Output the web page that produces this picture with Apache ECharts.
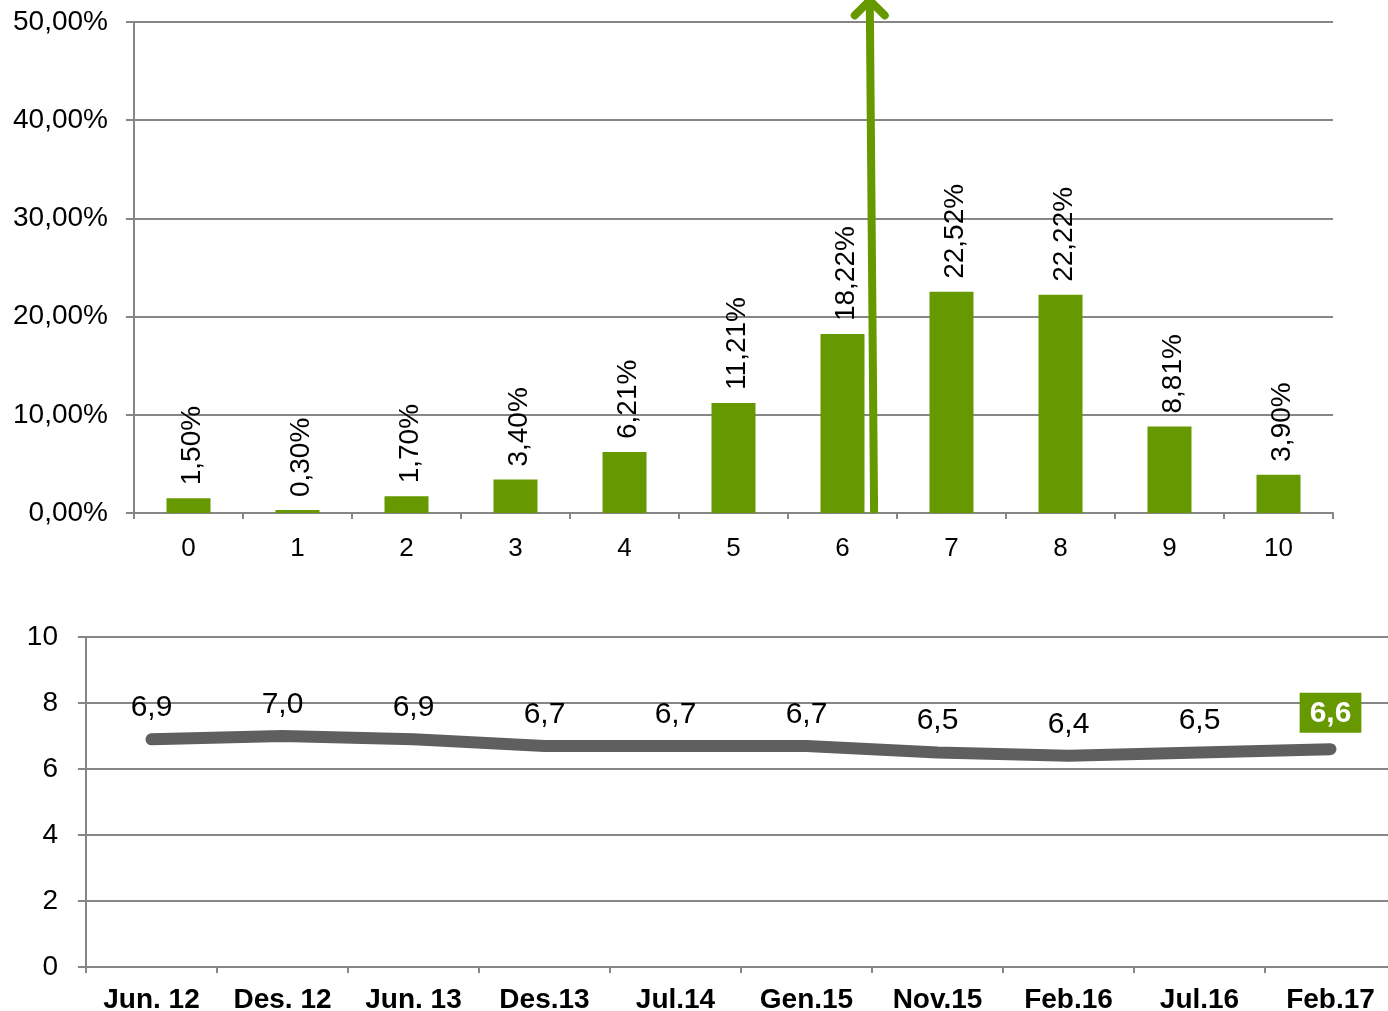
<!DOCTYPE html>
<html>
<head>
<meta charset="utf-8">
<script src="https://cdn.jsdelivr.net/npm/echarts@6/dist/echarts.min.js"></script>
<style>html,body{margin:0;padding:0;background:#fff}#c{width:1388px;height:1011px}</style>
</head>
<body>
<div id="c"></div>
<script>
var barCategories = ['0','1','2','3','4','5','6','7','8','9','10'];
var barValues = [1.50, 0.30, 1.70, 3.40, 6.21, 11.21, 18.22, 22.52, 22.22, 8.81, 3.90];
var barTicks = [0, 10, 20, 30, 40, 50];
var arrowPoints = [[6.29, 0], [6.25, 52.4]];

var lineCategories = ['Jun. 12','Des. 12','Jun. 13','Des.13','Jul.14','Gen.15','Nov.15','Feb.16','Jul.16','Feb.17'];
var lineValues = [6.9, 7.0, 6.9, 6.7, 6.7, 6.7, 6.5, 6.4, 6.5, 6.6];
var lineTicks = [0, 2, 4, 6, 8, 10];

var GREEN = '#669900';
var AXIS = '#868686';
var FONT = 'Liberation Sans, Arial, sans-serif';

function pct(v){ return v.toFixed(2).replace('.', ',') + '%'; }
function dec(v){ return v.toFixed(1).replace('.', ','); }

var chart = echarts.init(document.getElementById('c'));
var lastIdx = lineValues.length - 1;
chart.setOption({
  animation: false,
  textStyle: {fontFamily: FONT},
  grid: [
    {left: 134, top: 22, width: 1199, height: 491, containLabel: false, outerBoundsMode: 'none'},
    {left: 86, top: 637, width: 1310, height: 330, containLabel: false, outerBoundsMode: 'none'}
  ],
  xAxis: [
    {type: 'category', gridIndex: 0, data: barCategories,
     axisLine: {onZero: false, lineStyle: {color: AXIS, width: 2}},
     axisTick: {show: true, length: 6, lineStyle: {color: AXIS, width: 2}},
     axisLabel: {color: '#000', fontSize: 26, margin: 23, fontFamily: FONT}},
    {type: 'value', gridIndex: 0, min: -0.5, max: 10.5, show: false},
    {type: 'category', gridIndex: 1, data: lineCategories,
     axisLine: {onZero: false, lineStyle: {color: AXIS, width: 2}},
     axisTick: {show: true, length: 6, lineStyle: {color: AXIS, width: 2}},
     axisLabel: {color: '#000', fontSize: 28, fontWeight: 'bold', margin: 19, fontFamily: FONT}}
  ],
  yAxis: [
    {type: 'value', gridIndex: 0, min: barTicks[0], max: barTicks[barTicks.length-1], interval: 10,
     axisLine: {show: true, onZero: false, lineStyle: {color: AXIS, width: 2}},
     axisTick: {show: true, length: 8, lineStyle: {color: AXIS, width: 2}},
     splitLine: {lineStyle: {color: AXIS, width: 2}},
     axisLabel: {color: '#000', fontSize: 28, margin: 26, padding: [5, 0, 0, 0], formatter: pct, fontFamily: FONT}},
    {type: 'value', gridIndex: 1, min: lineTicks[0], max: lineTicks[lineTicks.length-1], interval: 2,
     axisLine: {show: true, onZero: false, lineStyle: {color: AXIS, width: 2}},
     axisTick: {show: true, length: 8, lineStyle: {color: AXIS, width: 2}},
     splitLine: {lineStyle: {color: AXIS, width: 2}},
     axisLabel: {color: '#000', fontSize: 28, margin: 28, padding: [2, 0, 0, 0], fontFamily: FONT}}
  ],
  series: [
    {type: 'bar', xAxisIndex: 0, yAxisIndex: 0, data: barValues, barWidth: 44,
     itemStyle: {color: GREEN},
     label: {show: true, position: 'top', rotate: 90, align: 'left', verticalAlign: 'middle', offset: [-2, 4],
             distance: 15, color: '#000', fontSize: 28, fontFamily: FONT, formatter: function(p){return pct(p.value);}}},
    {type: 'custom', xAxisIndex: 1, yAxisIndex: 0, clip: false, z: 5,
     data: [arrowPoints[0].concat(arrowPoints[1])],
     renderItem: function(params, api){
       var p0 = api.coord([api.value(0), api.value(1)]);
       var p1 = api.coord([api.value(2), api.value(3)]);
       var style = {stroke: GREEN, lineWidth: 8, lineCap: 'round', lineJoin: 'round', fill: null};
       return {type: 'group', children: [
         {type: 'line', shape: {x1: p0[0], y1: p0[1], x2: p1[0], y2: p1[1]}, style: {stroke: GREEN, lineWidth: 8, lineCap: 'butt'}},
         {type: 'polyline', shape: {points: [[p1[0]-15, p1[1]+17], [p1[0], p1[1]+2], [p1[0]+15, p1[1]+17]]}, style: style}
       ]};
     }},
    {type: 'line', xAxisIndex: 2, yAxisIndex: 1, symbol: 'circle', symbolSize: 1, showSymbol: true,
     itemStyle: {color: 'rgba(0,0,0,0)'},
     data: lineValues.map(function(v, i){
       if (i === lastIdx) {
         return {value: v, label: {backgroundColor: GREEN, color: '#fff', fontWeight: 'bold', padding: [6, 10, 4, 10], distance: 16}};
       }
       return v;
     }),
     lineStyle: {color: '#5f5f5f', width: 12, cap: 'round', join: 'round'},
     label: {show: true, position: 'top', distance: 16, color: '#000', fontSize: 30, fontFamily: FONT,
             formatter: function(p){ return dec(typeof p.value === 'number' ? p.value : p.data.value); }}}
  ]
});
</script>
</body>
</html>
